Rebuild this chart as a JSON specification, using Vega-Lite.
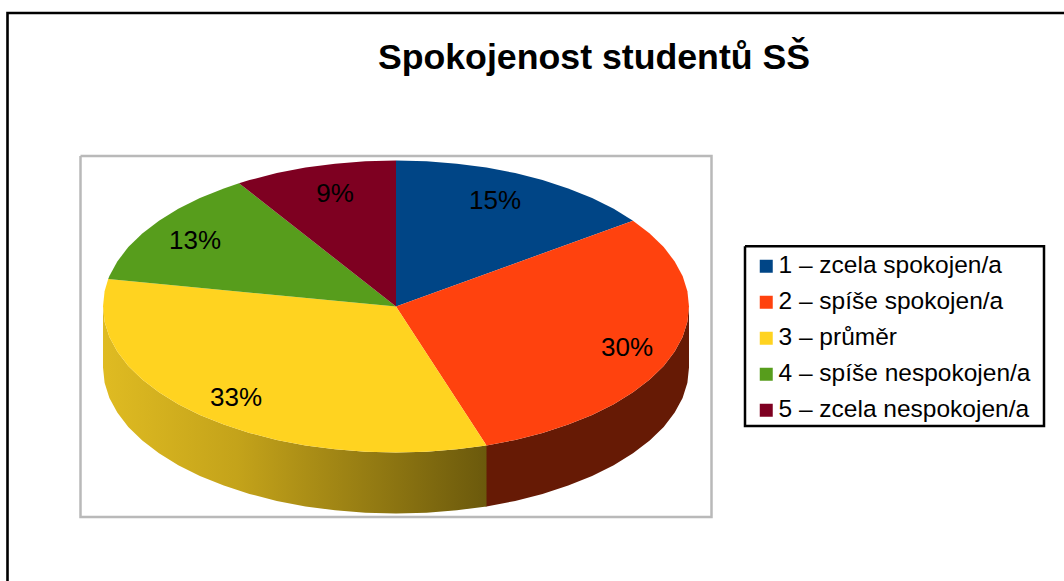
{
"$schema":"https://vega.github.io/schema/vega-lite/v6.json",
"width":1064,"height":581,"padding":0,"autosize":"none","background":"white",
"config":{"view":{"stroke":null},"font":"Liberation Sans"},
"title":{"text":"Spokojenost studentů SŠ","font":"Liberation Sans","fontSize":35.7,"fontWeight":"bold","color":"black","anchor":"middle","frame":"group","dx":62,"dy":77,"offset":0},
"projection":{"type":"identity","scale":1,"translate":[396,306.5],"reflectY":true},
"datasets":{
"slices":[
{"type":"Feature","properties":{"label":"1 – zcela spokojen/a","share":0.15,"labelLon":99,"labelLat":106},"geometry":{"type":"Polygon","coordinates":[[[0,0],[0,146],[30.6,145.2],[60.9,142.8],[90.5,138.9],[119.2,133.4],[146.5,126.4],[172.2,118.1],[196.1,108.5],[217.7,97.7],[237,85.8],[0,0]]]}},
{"type":"Feature","properties":{"label":"2 – spíše spokojen/a","share":0.30,"labelLon":231,"labelLat":-41},"geometry":{"type":"Polygon","coordinates":[[[0,0],[237,85.8],[253.7,73],[267.7,59.4],[278.7,45.1],[286.6,30.4],[291.4,15.3],[293,0],[291.4,-15.3],[286.6,-30.4],[278.7,-45.1],[267.7,-59.4],[253.7,-73],[237,-85.8],[217.7,-97.7],[196.1,-108.5],[172.2,-118.1],[146.5,-126.4],[119.2,-133.4],[90.5,-138.9],[0,0]]]}},
{"type":"Feature","properties":{"label":"3 – průměr","share":0.33,"labelLon":-160,"labelLat":-91},"geometry":{"type":"Polygon","coordinates":[[[0,0],[90.5,-138.9],[60.9,-142.8],[30.6,-145.2],[0,-146],[-30.6,-145.2],[-60.9,-142.8],[-90.5,-138.9],[-119.2,-133.4],[-146.5,-126.4],[-172.2,-118.1],[-196.1,-108.5],[-217.7,-97.7],[-237,-85.8],[-253.7,-73],[-267.7,-59.4],[-278.7,-45.1],[-286.6,-30.4],[-291.4,-15.3],[-293,0],[-291.4,15.3],[-287.8,27.4],[0,0]]]}},
{"type":"Feature","properties":{"label":"4 – spíše nespokojen/a","share":0.13,"labelLon":-201,"labelLat":66},"geometry":{"type":"Polygon","coordinates":[[[0,0],[-287.8,27.4],[-286.6,30.4],[-278.7,45.1],[-267.7,59.4],[-253.7,73],[-237,85.8],[-217.7,97.7],[-196.1,108.5],[-172.2,118.1],[-157,123.3],[0,0]]]}},
{"type":"Feature","properties":{"label":"5 – zcela nespokojen/a","share":0.09,"labelLon":-61,"labelLat":113},"geometry":{"type":"Polygon","coordinates":[[[0,0],[-157,123.3],[-146.5,126.4],[-119.2,133.4],[-90.5,138.9],[-60.9,142.8],[-30.6,145.2],[0,146],[0,0]]]}}
]},
"layer":[
{"data":{"values":[{"type":"Feature","properties":{"part":"frame"},"geometry":{"type":"LineString","coordinates":[[-388.5,-290],[-388.5,293.5],[680,293.5]]}}]},
 "mark":{"type":"geoshape","filled":false,"stroke":"black","strokeWidth":2.6,"clip":false},"encoding":{}},
{"data":{"values":[{"type":"Feature","properties":{"part":"legend box"},"geometry":{"type":"LineString","coordinates":[[349,60.2],[648,60.2],[648,-119.5],[349,-119.5],[349,60.2]]}}]},
 "mark":{"type":"geoshape","filled":false,"stroke":"black","strokeWidth":2.5},"encoding":{}},
{"data":{"values":[{"type":"Feature","properties":{"part":"plot area"},"geometry":{"type":"LineString","coordinates":[[-315.5,150.5],[315.5,150.5],[315.5,-210.5],[-315.5,-210.5],[-315.5,150.5]]}}]},
 "mark":{"type":"geoshape","filled":false,"stroke":"#b9b9b9","strokeWidth":2.5},"encoding":{}},
{"data":{"values":[{"type":"Feature","properties":{"part":"side of slice 2"},"geometry":{"type":"Polygon","coordinates":[[[293,0],[291.4,-15.3],[286.6,-30.4],[278.7,-45.1],[267.7,-59.4],[253.7,-73],[237,-85.8],[217.7,-97.7],[196.1,-108.5],[172.2,-118.1],[146.5,-126.4],[119.2,-133.4],[90.5,-138.9],[89.5,-139],[89.5,-200],[90.5,-199.9],[119.2,-194.4],[146.5,-187.4],[172.2,-179.1],[196.1,-169.5],[217.7,-158.7],[237,-146.8],[253.7,-134],[267.7,-120.4],[278.7,-106.1],[286.6,-91.4],[291.4,-76.3],[293,-61],[293,0]]]}}]},
 "mark":{"type":"geoshape","fill":"#661a05"},"encoding":{}},
{"data":{"values":[{"type":"Feature","properties":{"part":"side of slice 3"},"geometry":{"type":"Polygon","coordinates":[[[90.5,-138.9],[60.9,-142.8],[30.6,-145.2],[0,-146],[-30.6,-145.2],[-60.9,-142.8],[-90.5,-138.9],[-119.2,-133.4],[-146.5,-126.4],[-172.2,-118.1],[-196.1,-108.5],[-217.7,-97.7],[-237,-85.8],[-253.7,-73],[-267.7,-59.4],[-278.7,-45.1],[-286.6,-30.4],[-291.4,-15.3],[-293,0],[-293,-61],[-291.4,-76.3],[-286.6,-91.4],[-278.7,-106.1],[-267.7,-120.4],[-253.7,-134],[-237,-146.8],[-217.7,-158.7],[-196.1,-169.5],[-172.2,-179.1],[-146.5,-187.4],[-119.2,-194.4],[-90.5,-199.9],[-60.9,-203.8],[-30.6,-206.2],[0,-207],[30.6,-206.2],[60.9,-203.8],[90.5,-199.9],[90.5,-138.9]]]}}]},
 "mark":{"type":"geoshape","fill":{"gradient":"linear","x1":0,"x2":1,"y1":0,"y2":0,"stops":[{"offset":0,"color":"#dfbb22"},{"offset":0.35,"color":"#c4a31a"},{"offset":1,"color":"#6b590c"}]}},"encoding":{}},
{"data":{"name":"slices"},
 "mark":{"type":"geoshape"},
 "encoding":{"color":{"field":"properties.label","type":"nominal","scale":{"domain":["1 – zcela spokojen/a","2 – spíše spokojen/a","3 – průměr","4 – spíše nespokojen/a","5 – zcela nespokojen/a"],"range":["#004586","#ff420e","#ffd320","#579d1c","#7e0021"]},
 "legend":{"title":null,"orient":"none","legendX":754,"legendY":254,"padding":0,"symbolType":"square","symbolSize":169,"symbolStrokeWidth":0,"labelFontSize":24.5,"labelFont":"Liberation Sans","labelColor":"black","rowPadding":11,"labelOffset":0,"labelLimit":300}}}},
{"data":{"name":"slices"},
 "mark":{"type":"text","font":"Liberation Sans","fontSize":26,"color":"black","align":"center","baseline":"middle"},
 "encoding":{"longitude":{"field":"properties.labelLon","type":"quantitative"},"latitude":{"field":"properties.labelLat","type":"quantitative"},"text":{"field":"properties.share","type":"quantitative","format":".0%"}}}
]
}
